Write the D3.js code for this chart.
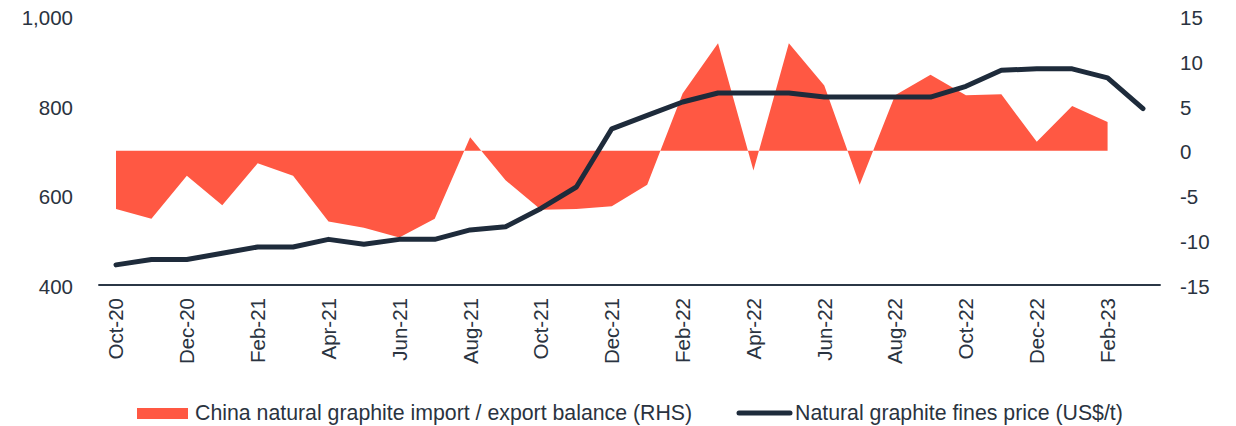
<!DOCTYPE html>
<html>
<head>
<meta charset="utf-8">
<script src="https://cdn.jsdelivr.net/npm/d3@7"></script>
<style>
  html, body { margin: 0; padding: 0; background: #ffffff; }
  svg { display: block; font-family: "Liberation Sans", Arial, sans-serif; }
</style>
</head>
<body>
<svg id="chart" width="1236" height="426"></svg>
<script>
const months = ["Oct-20","Nov-20","Dec-20","Jan-21","Feb-21","Mar-21","Apr-21","May-21","Jun-21","Jul-21","Aug-21","Sep-21","Oct-21","Nov-21","Dec-21","Jan-22","Feb-22","Mar-22","Apr-22","May-22","Jun-22","Jul-22","Aug-22","Sep-22","Oct-22","Nov-22","Dec-22","Jan-23","Feb-23","Mar-23"];
// China natural graphite import / export balance (RHS), Oct-20 .. Feb-23
const balance = [-6.5,-7.6,-2.8,-6.1,-1.4,-2.8,-7.9,-8.6,-9.7,-7.6,1.5,-3.3,-6.6,-6.5,-6.2,-3.8,6.4,12.0,-2.2,12.0,7.3,-3.8,6.2,8.5,6.2,6.3,1.0,5.0,3.2];
// Natural graphite fines price (US$/t), Oct-20 .. Mar-23
const price = [445,457,457,471,485,485,502,491,502,502,523,530,571,619,749,779,809,829,829,829,820,820,820,820,844,880,883,883,863,794];
const leftTicks = [400,600,800,1000];
const rightTicks = [-15,-10,-5,0,5,10,15];
const xTickLabels = months.filter((d,i) => i % 2 === 0);
const seriesNames = ["China natural graphite import / export balance (RHS)", "Natural graphite fines price (US$/t)"];

const RED = "#FF5843";
const NAVY = "#1E2B3B";
const TEXT = "#2A3340";

const svg = d3.select("#chart");
const x = d3.scaleBand().domain(months).range([98.3, 1160.7]).padding(0);
const cx = d => x(d) + x.bandwidth() / 2;
const yL = d3.scaleLinear().domain([400, 1000]).range([285, 16.5]);
const yR = d3.scaleLinear().domain([-15, 15]).range([285, 16.5]);

// area
const balData = balance.map((v, i) => ({m: months[i], v}));
svg.append("path")
  .datum(balData)
  .attr("fill", RED)
  .attr("d", d3.area().x(d => cx(d.m)).y0(yR(0)).y1(d => yR(d.v)));

// x axis line
svg.append("line")
  .attr("x1", 98.3).attr("x2", 1160.7)
  .attr("y1", 285).attr("y2", 285)
  .attr("stroke", "#2B3746").attr("stroke-width", 2);

// price line
const priceData = price.map((v, i) => ({m: months[i], v}));
svg.append("path")
  .datum(priceData)
  .attr("fill", "none")
  .attr("stroke", NAVY)
  .attr("stroke-width", 5)
  .attr("stroke-linejoin", "round")
  .attr("stroke-linecap", "round")
  .attr("d", d3.line().x(d => cx(d.m)).y(d => yL(d.v)));

// left axis
const leftAxis = d3.axisLeft(yL).tickValues(leftTicks).tickFormat(d3.format(",")).tickSize(0).tickPadding(0);
const gL = svg.append("g").attr("transform", "translate(73,0)").call(leftAxis);
gL.select(".domain").remove();
gL.selectAll("text").attr("font-size", "20.5px").attr("fill", TEXT).attr("font-family", "Liberation Sans, Arial, sans-serif").attr("dy", "0.4em");

// right axis
const rightAxis = d3.axisRight(yR).tickValues(rightTicks).tickFormat(d => String(d)).tickSize(0).tickPadding(0);
const gR = svg.append("g").attr("transform", "translate(1180,0)").call(rightAxis);
gR.select(".domain").remove();
gR.selectAll("text").attr("font-size", "20.5px").attr("fill", TEXT).attr("font-family", "Liberation Sans, Arial, sans-serif").attr("dy", "0.4em");

// x axis labels
const xAxis = d3.axisBottom(x).tickValues(xTickLabels).tickSize(0).tickPadding(0);
const gX = svg.append("g").attr("transform", "translate(0,285)").call(xAxis);
gX.select(".domain").remove();
gX.selectAll("text")
  .attr("font-size", "20.5px").attr("fill", TEXT)
  .attr("font-family", "Liberation Sans, Arial, sans-serif")
  .attr("text-anchor", "end")
  .attr("transform", "rotate(-90)")
  .attr("x", -13).attr("y", 0).attr("dy", "0.36em");

// legend
const lg = svg.append("g");
lg.append("rect").attr("x", 137).attr("y", 408).attr("width", 51).attr("height", 11).attr("fill", RED);
lg.append("text").attr("x", 195).attr("y", 420).attr("font-size", "21.3px").attr("fill", TEXT).text(seriesNames[0]);
lg.append("line").attr("x1", 739).attr("x2", 790).attr("y1", 413).attr("y2", 413)
  .attr("stroke", NAVY).attr("stroke-width", 5).attr("stroke-linecap", "round");
lg.append("text").attr("x", 795).attr("y", 420).attr("font-size", "21.3px").attr("fill", TEXT).text(seriesNames[1]);
</script>
</body>
</html>
